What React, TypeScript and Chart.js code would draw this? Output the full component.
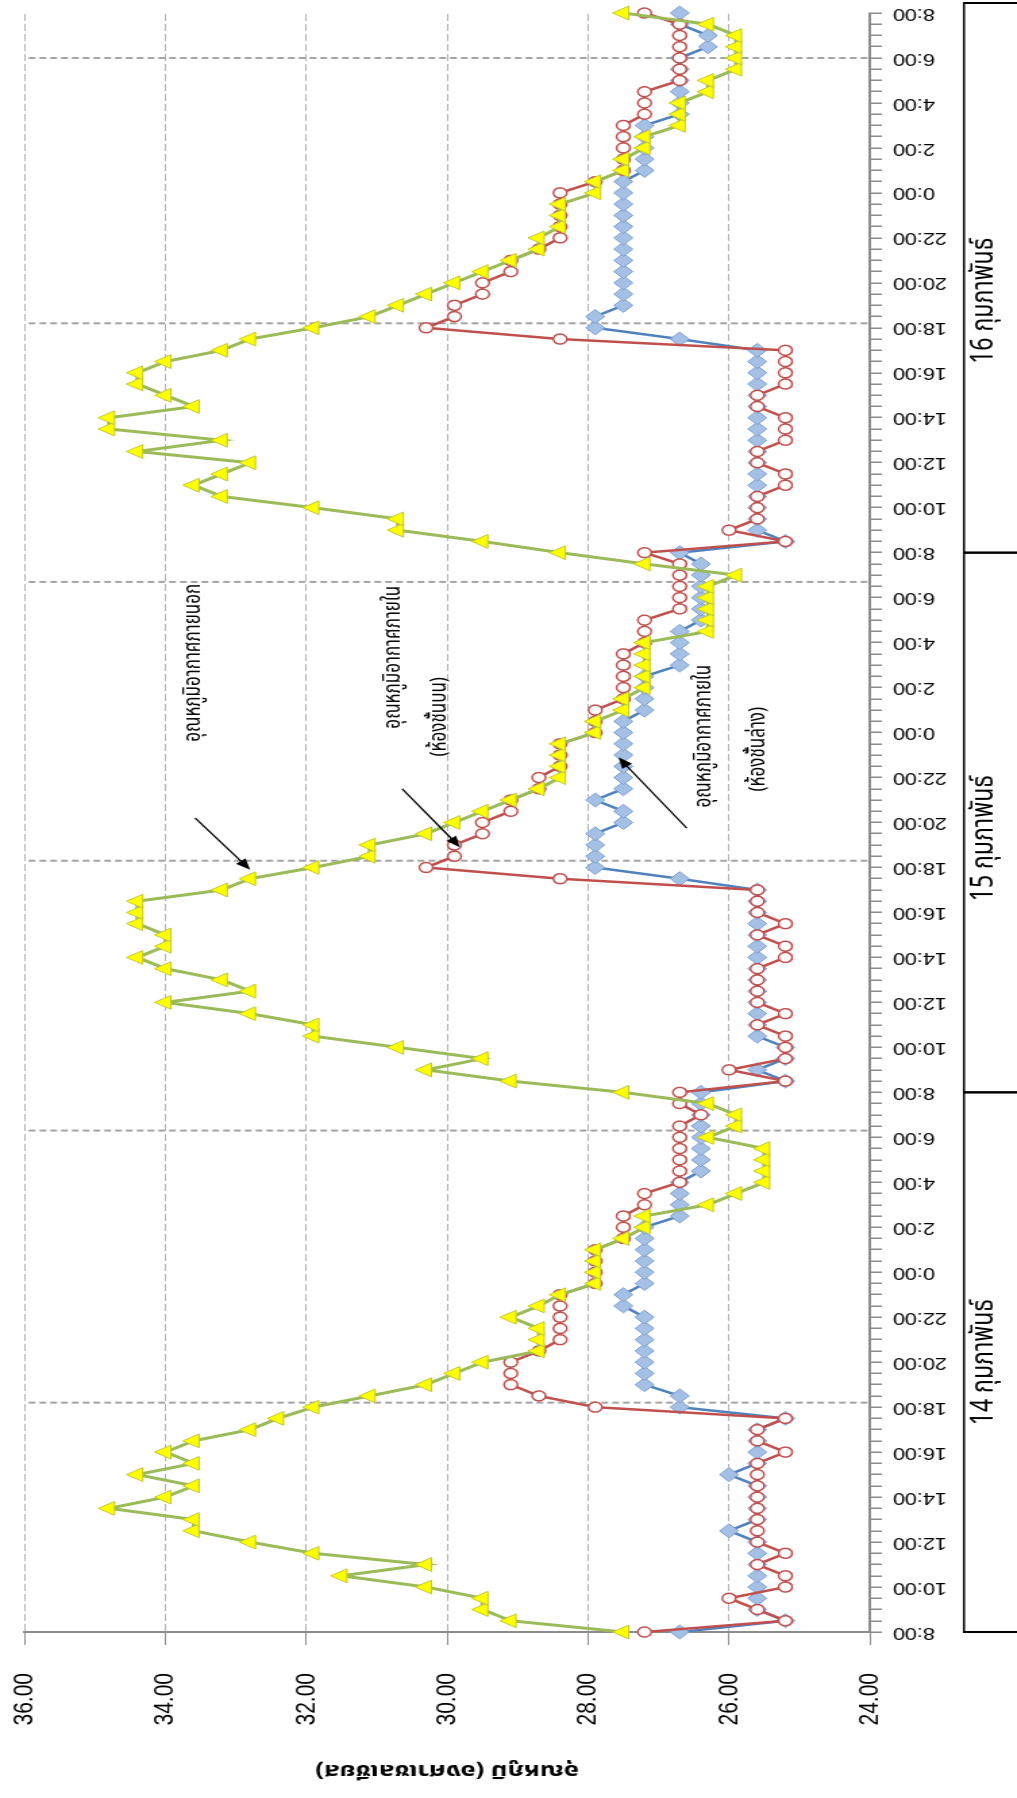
import { useEffect, useRef } from "react";
import { Chart, registerables } from "chart.js";

Chart.register(...registerables);

// Readings every 30 minutes, from 8:00 on 14 Feb to 8:00 on 17 Feb.
const STEP_HOURS = 0.5;

const dayLabels = ["14 กุมภาพันธ์", "15 กุมภาพันธ์", "16 กุมภาพันธ์"];
const dayEdges = [0, 24, 48, 72];
const dayLabelHours = [12, 35.3, 59.2];
const hourLabels = ["8:00", "10:00", "12:00", "14:00", "16:00", "18:00", "20:00", "22:00", "0:00", "2:00", "4:00", "6:00"];
const axisTitle = "อุณหภูมิ (องศาเซลเซียส)";

// outside air (green / yellow triangles)
const outside14 = [27.5, 29.1, 29.5, 29.5, 30.3, 31.5, 30.3, 31.9, 32.8, 33.6, 33.6, 34.8, 34.0, 33.6, 34.4, 33.6, 34.0, 33.6, 32.8, 32.4, 31.9, 31.1, 30.3, 29.9, 29.5, 28.7, 28.7, 28.7, 29.1, 28.7, 28.4, 27.9, 27.9, 27.9, 27.9, 27.5, 27.2, 27.2, 26.3, 25.9, 25.5, 25.5, 25.5, 25.5, 26.3, 25.9, 25.9, 26.3];
const outside15 = [27.5, 29.1, 30.3, 29.5, 30.7, 31.9, 31.9, 32.8, 34.0, 32.8, 33.2, 34.0, 34.4, 34.0, 34.0, 34.4, 34.4, 34.4, 33.2, 32.8, 31.9, 31.1, 31.1, 30.3, 29.9, 29.5, 29.1, 28.7, 28.4, 28.4, 28.4, 28.4, 27.9, 27.9, 27.5, 27.5, 27.2, 27.2, 27.2, 27.2, 27.2, 26.3, 26.3, 26.3, 26.3, 26.3, 25.9, 27.2];
const outside16 = [28.4, 29.5, 30.7, 30.7, 31.9, 33.2, 33.6, 33.2, 32.8, 34.4, 33.2, 34.8, 34.8, 33.6, 34.0, 34.4, 34.4, 34.0, 33.2, 32.8, 31.9, 31.1, 30.7, 30.3, 29.9, 29.5, 29.1, 28.7, 28.7, 28.4, 28.4, 28.4, 27.9, 27.9, 27.5, 27.5, 27.2, 27.2, 26.7, 26.7, 26.7, 26.3, 26.3, 25.9, 25.9, 25.9, 25.9, 26.3];
const outsideEnd = [27.5];

// inside air, upper reading (red circles)
const upper14 = [27.2, 25.2, 25.6, 26.0, 25.2, 25.2, 25.6, 25.2, 25.6, 25.6, 25.6, 25.6, 25.6, 25.6, 25.6, 25.6, 25.2, 25.6, 25.6, 25.2, 27.9, 28.7, 29.1, 29.1, 29.1, 28.7, 28.4, 28.4, 28.4, 28.4, 28.4, 27.9, 27.9, 27.9, 27.9, 27.5, 27.5, 27.5, 27.2, 27.2, 26.7, 26.7, 26.7, 26.7, 26.7, 26.7, 26.4, 26.7];
const upper15 = [26.7, 25.2, 26.0, 25.2, 25.2, 25.2, 25.6, 25.2, 25.6, 25.6, 25.6, 25.6, 25.2, 25.2, 25.6, 25.2, 25.6, 25.6, 25.6, 28.4, 30.3, 29.9, 29.9, 29.5, 29.5, 29.1, 29.1, 28.7, 28.7, 28.4, 28.4, 28.4, 27.9, 27.9, 27.9, 27.5, 27.5, 27.5, 27.5, 27.5, 27.2, 27.2, 27.2, 26.7, 26.7, 26.7, 26.7, 26.7];
const upper16 = [27.2, 25.2, 26.0, 25.6, 25.6, 25.6, 25.2, 25.2, 25.6, 25.6, 25.2, 25.2, 25.2, 25.6, 25.6, 25.2, 25.2, 25.2, 25.2, 28.4, 30.3, 29.9, 29.9, 29.5, 29.5, 29.1, 29.1, 28.7, 28.4, 28.4, 28.4, 28.4, 28.4, 27.9, 27.5, 27.5, 27.5, 27.5, 27.5, 27.2, 27.2, 27.2, 26.7, 26.7, 26.7, 26.7, 26.7, 26.7];
const upperEnd = [27.2];

// inside air, lower reading (blue diamonds)
const lower14 = [26.7, 25.2, 25.6, 25.6, 25.6, 25.6, 25.6, 25.6, 25.6, 26.0, 25.6, 25.6, 25.6, 25.6, 26.0, 25.6, 25.6, 25.6, 25.6, 25.2, 26.7, 26.7, 27.2, 27.2, 27.2, 27.2, 27.2, 27.2, 27.2, 27.5, 27.5, 27.2, 27.2, 27.2, 27.2, 27.2, 27.2, 26.7, 26.7, 26.7, 26.7, 26.4, 26.4, 26.4, 26.4, 26.4, 26.4, 26.4];
const lower15 = [26.4, 25.2, 25.6, 25.2, 25.2, 25.6, 25.6, 25.6, 25.6, 25.6, 25.6, 25.6, 25.6, 25.6, 25.6, 25.6, 25.6, 25.6, 25.6, 26.7, 27.9, 27.9, 27.9, 27.9, 27.5, 27.5, 27.9, 27.5, 27.5, 27.5, 27.5, 27.5, 27.5, 27.5, 27.2, 27.2, 27.2, 27.2, 26.7, 26.7, 26.7, 26.7, 26.4, 26.4, 26.4, 26.4, 26.4, 26.4];
const lower16 = [26.7, 25.2, 25.6, 25.6, 25.6, 25.6, 25.6, 25.6, 25.6, 25.6, 25.6, 25.6, 25.6, 25.6, 25.6, 25.6, 25.6, 25.6, 25.6, 26.7, 27.9, 27.9, 27.5, 27.5, 27.5, 27.5, 27.5, 27.5, 27.5, 27.5, 27.5, 27.5, 27.5, 27.5, 27.2, 27.2, 27.2, 27.2, 27.2, 26.7, 26.7, 26.7, 26.7, 26.7, 26.7, 26.3, 26.3, 26.7];
const lowerEnd = [26.7];

// dashed markers at dusk / dawn (hours from the first reading)
const duskDawnHours = [10.2, 22.3, 34.3, 46.7, 58.2, 70.0];

// callouts: text lines with their centres, and arrows (hour, °C)
const callouts = [
  {
    lines: [{ text: "อุณหภูมิอากาศภายนอก", at: [43.1, 33.58] }],
    arrow: { from: [36.2, 33.58], to: [33.9, 32.8] },
  },
  {
    lines: [
      { text: "อุณหภูมิอากาศภายใน", at: [43.35, 30.74] },
      { text: "(ห้องชั้นบน)", at: [40.7, 30.09] },
    ],
    arrow: { from: [37.5, 30.64], to: [34.9, 29.82] },
  },
  {
    lines: [
      { text: "อุณหภูมิอากาศภายใน", at: [39.84, 26.33] },
      { text: "(ห้องชั้นล่าง)", at: [39.26, 25.57] },
    ],
    arrow: { from: [35.75, 26.6], to: [38.9, 27.57] },
  },
];

// The chart is laid out landscape and then turned a quarter turn on the page.
const PAGE_W = 1017;
const PAGE_H = 1798;
const CANVAS_W = PAGE_H;
const CANVAS_H = 753;
const STRETCH = PAGE_W / CANVAS_H;
const across = (px: number) => px / STRETCH;

const PLOT_LEFT = 166;
const PLOT_RIGHT = 1785;
const PLOT_TOP = across(24.6);
const PLOT_BOTTOM = across(870);

const FONT = "'Liberation Sans', Arial, sans-serif";
const THAI_FONT = "Tahoma, 'Noto Sans Thai', 'Liberation Sans', sans-serif";

const toPoints = (values: number[]) => values.map((y, i) => ({ x: i * STEP_HOURS, y }));

const clearScalePadding = (s: any) => {
  s.paddingLeft = 0;
  s.paddingRight = 0;
  s.paddingTop = 0;
  s.paddingBottom = 0;
};

const overlay = {
  id: "overlay",
  beforeDatasetsDraw(chart: any) {
    const { ctx, chartArea, scales } = chart;
    ctx.save();
    ctx.strokeStyle = "#a3a3a3";
    ctx.lineWidth = 2;
    ctx.setLineDash([5, 3]);
    for (const h of duskDawnHours) {
      const px = scales.x.getPixelForValue(h);
      ctx.beginPath();
      ctx.moveTo(px, chartArea.top + 3);
      ctx.lineTo(px, chartArea.bottom);
      ctx.stroke();
    }
    ctx.restore();
  },
  afterDraw(chart: any) {
    const { ctx, scales } = chart;
    const xs = scales.x;
    const ys = scales.y;

    // day boxes under the time axis
    ctx.save();
    ctx.fillStyle = "#000";
    const boxTop = across(963);
    const boxBottom = CANVAS_H + 4;
    for (let d = 0; d < dayLabels.length; d++) {
      const l = xs.getPixelForValue(dayEdges[d]);
      const r = d === dayLabels.length - 1 ? chart.width - 3 : xs.getPixelForValue(dayEdges[d + 1]);
      ctx.fillRect(l - 1, boxTop, r - l + 2, 1.5);
      ctx.fillRect(l - 1, boxTop, 2, boxBottom - boxTop);
      ctx.fillRect(r - 1, boxTop, 2, boxBottom - boxTop);
      ctx.font = `23px ${THAI_FONT}`;
      ctx.textAlign = "center";
      ctx.textBaseline = "middle";
      ctx.fillText(dayLabels[d], xs.getPixelForValue(dayLabelHours[d]), across(987));
    }
    ctx.restore();

    // callouts
    ctx.save();
    ctx.fillStyle = "#000";
    ctx.strokeStyle = "#000";
    ctx.font = `17px ${THAI_FONT}`;
    ctx.textAlign = "center";
    ctx.textBaseline = "middle";
    for (const c of callouts) {
      for (const line of c.lines) {
        ctx.fillText(line.text, xs.getPixelForValue(line.at[0]), ys.getPixelForValue(line.at[1]));
      }
      const x1 = xs.getPixelForValue(c.arrow.from[0]);
      const y1 = ys.getPixelForValue(c.arrow.from[1]);
      const x2 = xs.getPixelForValue(c.arrow.to[0]);
      const y2 = ys.getPixelForValue(c.arrow.to[1]);
      const ang = Math.atan2(y2 - y1, x2 - x1);
      const head = 11;
      const half = 4.5;
      ctx.lineWidth = 1.3;
      ctx.beginPath();
      ctx.moveTo(x1, y1);
      ctx.lineTo(x2 - Math.cos(ang) * head * 0.8, y2 - Math.sin(ang) * head * 0.8);
      ctx.stroke();
      ctx.beginPath();
      ctx.moveTo(x2, y2);
      ctx.lineTo(x2 - Math.cos(ang) * head - Math.sin(ang) * half, y2 - Math.sin(ang) * head + Math.cos(ang) * half);
      ctx.lineTo(x2 - Math.cos(ang) * head + Math.sin(ang) * half, y2 - Math.sin(ang) * head - Math.cos(ang) * half);
      ctx.closePath();
      ctx.fill();
    }
    ctx.restore();
  },
};

export default function App() {
  const ref = useRef<HTMLCanvasElement>(null);

  useEffect(() => {
    document.body.style.margin = "0";
    const outside = [...outside14, ...outside15, ...outside16, ...outsideEnd];
    const upper = [...upper14, ...upper15, ...upper16, ...upperEnd];
    const lower = [...lower14, ...lower15, ...lower16, ...lowerEnd];

    const chart = new Chart(ref.current!, {
      type: "line",
      data: {
        datasets: [
          {
            label: "อุณหภูมิอากาศภายนอก",
            data: toPoints(outside),
            borderColor: "#9BBB59",
            borderWidth: 3,
            pointStyle: "triangle",
            pointRadius: 8,
            pointBackgroundColor: "#FFFF00",
            pointBorderColor: "#C2C82C",
            pointBorderWidth: 1,
            tension: 0,
            clip: false,
          },
          {
            label: "อุณหภูมิอากาศภายใน (ห้องชั้นบน)",
            data: toPoints(upper),
            borderColor: "#C0504D",
            borderWidth: 2.5,
            pointStyle: "circle",
            pointRadius: 5,
            pointBackgroundColor: "#FFFFFF",
            pointBorderColor: "#C0504D",
            pointBorderWidth: 1.5,
            tension: 0,
            clip: false,
          },
          {
            label: "อุณหภูมิอากาศภายใน (ห้องชั้นล่าง)",
            data: toPoints(lower),
            borderColor: "#4F81BD",
            borderWidth: 2.5,
            pointStyle: "rectRot",
            pointRadius: 7,
            pointBackgroundColor: "#A5C0E5",
            pointBorderColor: "#7C9ED0",
            pointBorderWidth: 1,
            tension: 0,
            clip: false,
          },
        ],
      },
      options: {
        responsive: false,
        animation: false,
        devicePixelRatio: 1,
        events: [],
        layout: { padding: { left: 0, right: CANVAS_W - PLOT_RIGHT, top: PLOT_TOP, bottom: 0 } },
        plugins: { legend: { display: false }, tooltip: { enabled: false } },
        scales: {
          x: {
            type: "linear",
            min: 0,
            max: 72,
            afterFit: (s: any) => {
              s.height = CANVAS_H - PLOT_BOTTOM;
              clearScalePadding(s);
            },
            ticks: {
              stepSize: STEP_HOURS,
              autoSkip: false,
              minRotation: 90,
              maxRotation: 90,
              padding: 8,
              color: "#000",
              font: { family: FONT, size: 16 },
              callback: (value: any) => {
                const h = Number(value);
                return h % 2 === 0 ? hourLabels[(h / 2) % 12] : "";
              },
            },
            grid: {
              drawOnChartArea: false,
              drawTicks: true,
              tickLength: across(12),
              color: "#8c8c8c",
              lineWidth: 1.5,
            },
            border: { display: true, color: "#8c8c8c", width: 2 },
          },
          y: {
            type: "linear",
            min: 24,
            max: 36,
            afterFit: (s: any) => {
              s.width = PLOT_LEFT;
              clearScalePadding(s);
            },
            ticks: {
              stepSize: 2,
              padding: 28,
              color: "#000",
              font: { family: FONT, size: 21 },
              callback: (value: any) => Number(value).toFixed(2),
            },
            grid: {
              color: "#b3b3b3",
              lineWidth: 1,
              drawTicks: true,
              tickLength: 13,
              tickColor: "#8c8c8c",
            },
            border: { display: true, color: "#8c8c8c", width: 2, dash: [7, 3] },
            title: {
              display: true,
              text: axisTitle,
              color: "#000",
              font: { family: THAI_FONT, size: 19, weight: "bold" },
              padding: { top: 18, bottom: 0 },
            },
          },
        },
      },
      plugins: [overlay],
    } as any);

    return () => chart.destroy();
  }, []);

  return (
    <div
      style={{
        position: "absolute",
        left: 0,
        top: 0,
        width: PAGE_W,
        height: PAGE_H,
        overflow: "hidden",
        background: "#fff",
      }}
    >
      <div
        style={{
          position: "absolute",
          left: 0,
          top: 0,
          width: CANVAS_W,
          height: CANVAS_H,
          transformOrigin: "0 0",
          transform: `translateY(${PAGE_H}px) rotate(-90deg) scaleY(${STRETCH})`,
        }}
      >
        <canvas ref={ref} width={CANVAS_W} height={CANVAS_H} style={{ width: CANVAS_W, height: CANVAS_H }} />
      </div>
    </div>
  );
}
